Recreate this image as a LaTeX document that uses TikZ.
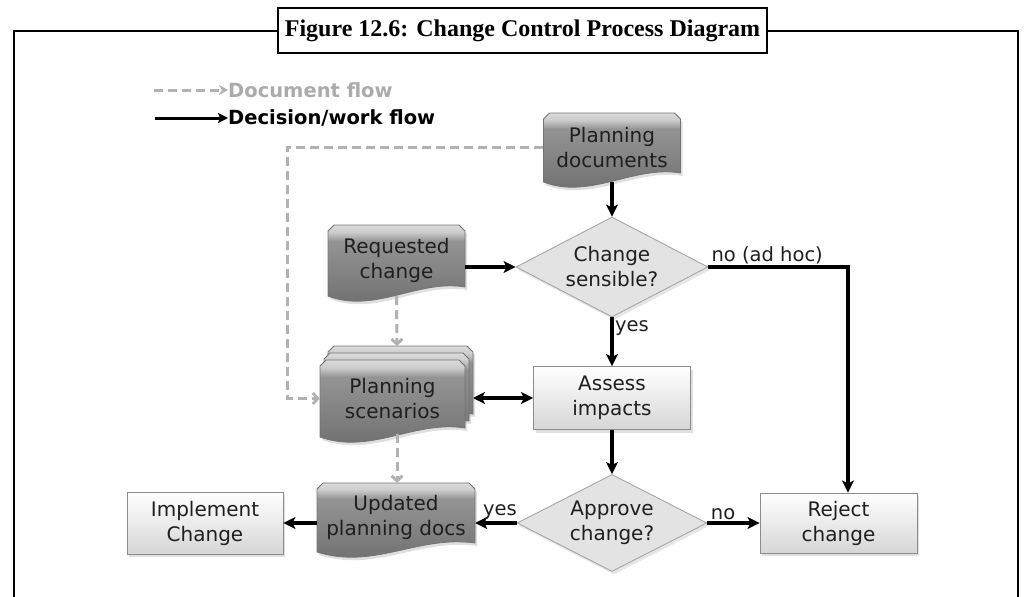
\documentclass[tikz,border=0pt]{standalone}
\usepackage{fontspec}
\setmainfont{Liberation Serif}
\setsansfont{DejaVu Sans}
\usetikzlibrary{shapes.geometric, arrows.meta, shadows}

\newcommand\boxfont{\sffamily\fontsize{20}{25}\selectfont}
\newcommand\tagfont{\sffamily\fontsize{19.5}{24}\selectfont}
\newcommand\legendfont{\sffamily\bfseries\fontsize{19.5}{24}\selectfont}
\newcommand\titlefont{\rmfamily\bfseries\fontsize{24}{28}\selectfont}

% dark document shading: bright bevel at the top, darker towards the wave
\pgfdeclareverticalshading{docshade}{100bp}{color(0bp)=(black!58);
  color(25bp)=(black!58); color(45bp)=(black!50); color(66bp)=(black!42);
  color(71bp)=(black!20); color(75bp)=(black!14); color(100bp)=(black!14)}

\tikzset{
  docbody/.style={shading=docshade, draw=black!55, line width=0.8pt,
    drop shadow={shadow xshift=2pt, shadow yshift=-3pt, opacity=0.25}},
  doctext/.style={align=center, inner sep=0pt, text=black!88, font=\boxfont},
  task/.style={draw=black!45, line width=0.9pt, top color=white,
    bottom color=black!16, align=center, inner sep=0pt, text=black!88,
    font=\boxfont,
    drop shadow={shadow xshift=2pt, shadow yshift=-3pt, opacity=0.25}},
  choice/.style={diamond, aspect=1.9, draw=black!35, line width=0.9pt,
    fill=black!11, align=center, inner sep=-4pt, text=black!88,
    font=\boxfont,
    drop shadow={shadow xshift=2pt, shadow yshift=-3pt, opacity=0.2}},
  tip/.tip={Stealth[length=12pt, width=12pt, inset=3pt]},
  flow/.style={line width=3.3pt, -tip},
  docflow/.style={line width=3pt, black!30, dash pattern=on 9pt off 5pt,
    -{Straight Barb[length=5pt, width=11pt]}},
  tag/.style={font=\tagfont, inner sep=1.5pt, text=black!88},
  frame/.style={line width=2pt}
}

% document outline: centre #1,#2, half width #3, half height #4
\newcommand\docshape[4]{%
  \shadedraw[docbody] (#1-#3+6,#2-#4) -- (#1+#3-6,#2-#4) -- (#1+#3,#2-#4+6)
    -- (#1+#3,#2+#4-9)
    .. controls (#1+22,#2+#4-17) and (#1-22,#2+#4+18) .. (#1-#3,#2+#4)
    -- (#1-#3,#2-#4+6) -- cycle;}

\begin{document}
\begin{tikzpicture}[x=1pt, y=-1pt]
\useasboundingbox (0,0) rectangle (1034,597);

% ============================================================ title and frame
\node[draw, frame, minimum width=489pt, minimum height=45pt, inner sep=0pt,
  font=\titlefont] (title) at (522.5,30.5)
  {Figure 12.6: Change Control Process Diagram};
\coordinate (framesw) at (14,600);
\coordinate (framese) at (1018,600);
\draw[frame] (title.west) -| (framesw);
\draw[frame] (title.east) -| (framese);

% ==================================================================== legend
\node[anchor=west, inner sep=0pt, font=\legendfont, text=black!33]
  (legdoc) at (228,90) {Document flow};
\node[anchor=west, inner sep=0pt, font=\legendfont]
  (legwork) at (228,118) {Decision/work flow};
\coordinate (legdocstart) at (154,90);
\coordinate (legworkstart) at (155,118);
\draw[line width=3pt, black!30, dash pattern=on 9pt off 5pt,
  -{Stealth[length=9pt, width=10pt]}] (legdocstart) -- (legdoc.west);
\draw[line width=3pt, -{Stealth[length=10pt, width=10pt, inset=2pt]}]
  (legworkstart) -- (legwork.west);

% ============================================================ document shapes
\docshape{612}{147.5}{68.5}{34.5}
\docshape{396.5}{260.5}{68.5}{35.5}
\docshape{400.5}{384.5}{72.5}{38.5}
\docshape{396.5}{391.5}{72.5}{38.5}
\docshape{392.5}{398.5}{72.5}{38.5}
\docshape{396}{517.5}{79}{34.5}

\node[doctext, minimum width=137pt, minimum height=69pt] (plandocs)
  at (612,147.5) {Planning\\documents};
\node[doctext, minimum width=137pt, minimum height=71pt] (reqchange)
  at (396.5,260.5) {Requested\\change};
\node[doctext, minimum width=145pt, minimum height=77pt] (scenarios)
  at (392.5,398.5) {Planning\\scenarios};
\node[doctext, minimum width=158pt, minimum height=69pt] (updated)
  at (396,517.5) {Updated\\planning docs};

\coordinate (stacktop) at (397,346);
\coordinate (stackbot) at (397,434);
\coordinate (stackeast) at (473,398);
\coordinate (docrail) at (287,300);

% ======================================================= decisions and tasks
\node[choice, minimum width=192pt, minimum height=100pt] (sensible)
  at (612,267) {Change\\sensible?};
\node[choice, minimum width=190pt, minimum height=97pt] (approve)
  at (612,523) {Approve\\change?};
\node[task, minimum width=157pt, minimum height=63pt] (assess)
  at (612,398) {Assess\\impacts};
\node[task, minimum width=156pt, minimum height=62pt] (implement)
  at (205,523) {Implement\\Change};
\node[task, minimum width=157pt, minimum height=60pt] (reject)
  at (838.5,523) {Reject\\change};

% ============================================================ document flow
\draw[docflow] (plandocs.west) -| (docrail) |- (scenarios.west);
\draw[docflow] (reqchange.south) -- (stacktop);
\draw[docflow] (stackbot) -- (stackbot |- updated.north);

% ======================================================= decision/work flow
\draw[flow] (plandocs) -- (sensible);
\draw[flow] (reqchange.east |- sensible.west) -- (sensible.west);
\draw[flow] (sensible) -- (assess) node[tag, pos=0.22, anchor=west] {yes};
\draw[flow, tip-tip] (stackeast) -- (assess.west);
\draw[flow] (assess) -- (approve);
\draw[flow] (approve.west) -- (approve.west -| updated.east)
  node[tag, pos=0.4, above] {yes};
\draw[flow] (updated.west |- implement.east) -- (implement.east);
\draw[flow] (approve.east) -- (reject.west) node[tag, pos=0.3, above] {no};
\draw[flow] (sensible.east) -| ([xshift=9.5pt]reject.north)
  node[tag, pos=0, above right] {no (ad hoc)};

\end{tikzpicture}
\end{document}
